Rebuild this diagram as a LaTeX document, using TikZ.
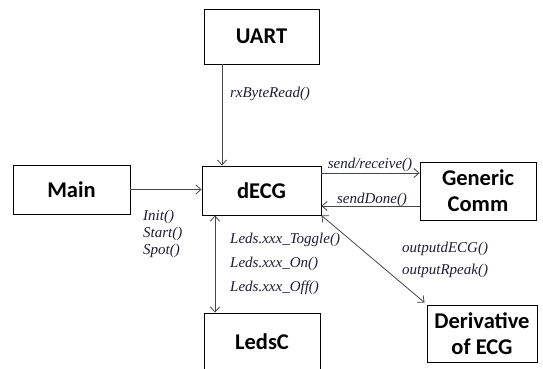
\documentclass[tikz,border=0pt]{standalone}
\usepackage{fontspec}
\setmainfont{Liberation Serif}
\newfontfamily\boxfont{Carlito}
\usetikzlibrary{arrows.meta}
\definecolor{linec}{RGB}{70,70,70}
\definecolor{labelc}{RGB}{30,30,50}
\begin{document}
\begin{tikzpicture}[x=1pt,y=-1pt,
  box/.style={draw=black, line width=0.9pt, fill=white,
    font=\boxfont\bfseries\fontsize{22.5}{26}\selectfont,
    align=center, inner sep=0pt},
  lbl/.style={font=\itshape\fontsize{15}{17}\selectfont, text=labelc, inner sep=0pt, align=left},
  conn/.style={draw=linec, line width=0.8pt},
  tip/.style={arrows={-Straight Barb[length=5pt,width=9pt]}},
  tips/.style={arrows={Straight Barb[length=5pt,width=9pt]-Straight Barb[length=5pt,width=9pt]}}]
\useasboundingbox (0,0) rectangle (543,369);
% boxes
\node[box, minimum width=115pt, minimum height=55pt] (uart) at (261.5,36.5) {UART};
\node[box, minimum width=119pt, minimum height=49pt] (decg) at (261.5,190.5) {dECG};
\node[box, minimum width=117pt, minimum height=49pt] (main) at (71.5,189.5) {Main};
\node[box, minimum width=116pt, minimum height=58pt] (comm) at (478,191) {Generic\\Comm};
\node[box, minimum width=116pt, minimum height=58pt] (leds) at (262,342) {LedsC};
\node[box, minimum width=110pt, minimum height=57pt] (deriv) at (482,333.5) {Derivative\\of ECG};
% helper coordinates
\coordinate (xu) at (222,0);
\coordinate (xl) at (215,0);
\coordinate (ys) at (0,173);
\coordinate (yd) at (0,206);
% connectors
\draw[conn,tip] (uart.south -| xu) -- (decg.north -| xu);
\draw[conn,tip] (main.east) -- (main.east -| decg.west);
\draw[conn,tips] (decg.south -| xl) -- (leds.north -| xl);
\draw[conn,tip] (decg.east |- ys) -- (comm.west |- ys);
\draw[conn,tip] (comm.west |- yd) -- (decg.east |- yd);
\draw[conn,tips] (decg.south east) -- ([xshift=-2pt,yshift=2pt]deriv.north west);
% labels
\node[lbl, anchor=center] (l1) at (270,94) {rxByteRead()};
\node[lbl, anchor=center] (l2) at (370,165) {send/receive()};
\node[lbl, anchor=center] (l3) at (372,200) {sendDone()};
\node[lbl, anchor=north west] (l4) at (143,210) {Init()\\Start()\\Spot()};
\node[lbl, anchor=north west, font=\itshape\fontsize{15}{24}\selectfont] (l5) at (230,233) {Leds.xxx\_Toggle()\\Leds.xxx\_On()\\Leds.xxx\_Off()};
\node[lbl, anchor=north west, font=\itshape\fontsize{15}{22}\selectfont] (l6) at (402,242) {outputdECG()\\outputRpeak()};
\end{tikzpicture}
\end{document}
